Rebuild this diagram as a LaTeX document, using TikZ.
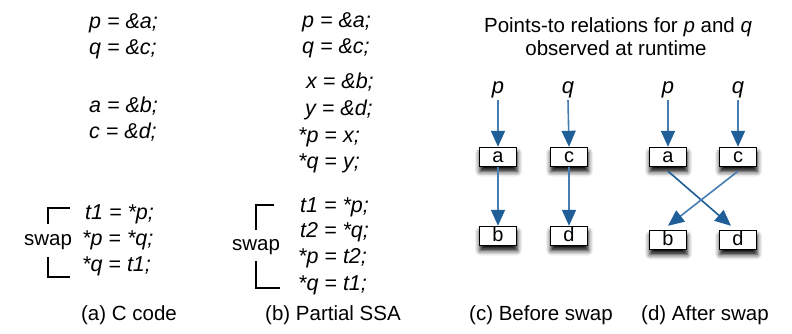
\documentclass[tikz,border=0pt]{standalone}
\usepackage{fontspec}
\setmainfont{Liberation Sans}
\usetikzlibrary{arrows.meta,shadows.blur}
\definecolor{ptblue}{RGB}{31,94,150}
\definecolor{ptline}{RGB}{70,125,178}
\begin{document}
\begin{tikzpicture}[x=1pt,y=-1pt,
  code/.style={anchor=base west,inner sep=0pt,font=\fontsize{21.5}{25}\selectfont\itshape},
  caption/.style={anchor=base,inner sep=0pt,font=\fontsize{20.5}{25}\selectfont},
  ptrname/.style={anchor=base,inner sep=2pt,font=\fontsize{22}{25}\selectfont\itshape},
  cell/.style={draw,line width=1.4pt,fill=white,minimum width=37pt,inner xsep=0pt,inner ysep=1pt,
    text height=14pt,text depth=3pt,font=\fontsize{20}{20}\selectfont,
    blur shadow={shadow xshift=0.5pt,shadow yshift=-5pt,shadow blur radius=5pt,shadow opacity=100}},
  ptr/.style={draw=ptline,line width=1.6pt,-{Triangle[width=14pt,length=16pt,fill=ptblue,color=ptblue]}},
  brace/.style={line width=1.6pt}
]
\useasboundingbox (0,0) rectangle (792,333);

% (a) C code
\node[code] (a1) at (89,28)  {p = \&a;};
\node[code] (a2) at (89,54)  {q = \&c;};
\node[code] (a3) at (89,112) {a = \&b;};
\node[code] (a4) at (89,138) {c = \&d;};
\node[code] (a5) at (85,219) {t1 = *p;};
\node[code] (a6) at (82,245) {*p = *q;};
\node[code] (a7) at (82,271) {*q = t1;};
\node[caption] (swapa) at (48,245) {swap};
\draw[brace] (70,208) -- (48,208) -- (48,224);
\draw[brace] (48,257) -- (48,277) -- (70,277);
\node[caption] (capa) at (129,320) {(a) C code};

% (b) Partial SSA
\node[code] (b1) at (302,27)  {p = \&a;};
\node[code] (b2) at (302,53)  {q = \&c;};
\node[code] (b3) at (306,88)  {x = \&b;};
\node[code] (b4) at (305,115) {y = \&d;};
\node[code] (b5) at (298,142) {*p = x;};
\node[code] (b6) at (298,168) {*q = y;};
\node[code] (b7) at (300,212) {t1 = *p;};
\node[code] (b8) at (300,237) {t2 = *q;};
\node[code] (b9) at (298,263) {*p = t2;};
\node[code] (b10) at (298,290) {*q = t1;};
\node[caption] (swapb) at (256,250) {swap};
\draw[brace] (274,205) -- (256,205) -- (256,230);
\draw[brace] (256,261) -- (256,288) -- (280,288);
\node[caption] (capb) at (333,320) {(b) Partial SSA};

% title over (c) and (d)
\node[caption] (t1) at (618,32) {Points-to relations for \textit{p} and \textit{q}};
\node[caption] (t2) at (616,55) {observed at runtime};

% (c) before swap
\node[ptrname] (cp) at (498,93) {p};
\node[ptrname] (cq) at (568,93) {q};
\node[cell] (ca) at (498,157) {a};
\node[cell] (cc) at (569,157) {c};
\node[cell] (cb) at (498,236) {b};
\node[cell] (cd) at (569,236) {d};
\draw[ptr] (cp.south) -- (ca.north);
\draw[ptr] (cq.south) -- (cc.north);
\draw[ptr] (ca.south) -- (cb.north);
\draw[ptr] (cc.south) -- (cd.north);
\node[caption] (capc) at (541,320) {(c) Before swap};

% (d) after swap
\node[ptrname] (dp) at (668,93) {p};
\node[ptrname] (dq) at (738,93) {q};
\node[cell] (da) at (668,157) {a};
\node[cell] (dc) at (738,157) {c};
\node[cell] (db) at (668,240) {b};
\node[cell] (dd) at (738,240) {d};
\draw[ptr] (dp.south) -- (da.north);
\draw[ptr] (dq.south) -- (dc.north);
\draw[ptr,draw=ptblue] ([yshift=-4pt]da.south) -- ([xshift=-7pt,yshift=4pt]dd.north);
\draw[ptr] ([yshift=-4pt]dc.south) -- ([yshift=4pt]db.north);
\node[caption] (capd) at (705,320) {(d) After swap};
\end{tikzpicture}
\end{document}
